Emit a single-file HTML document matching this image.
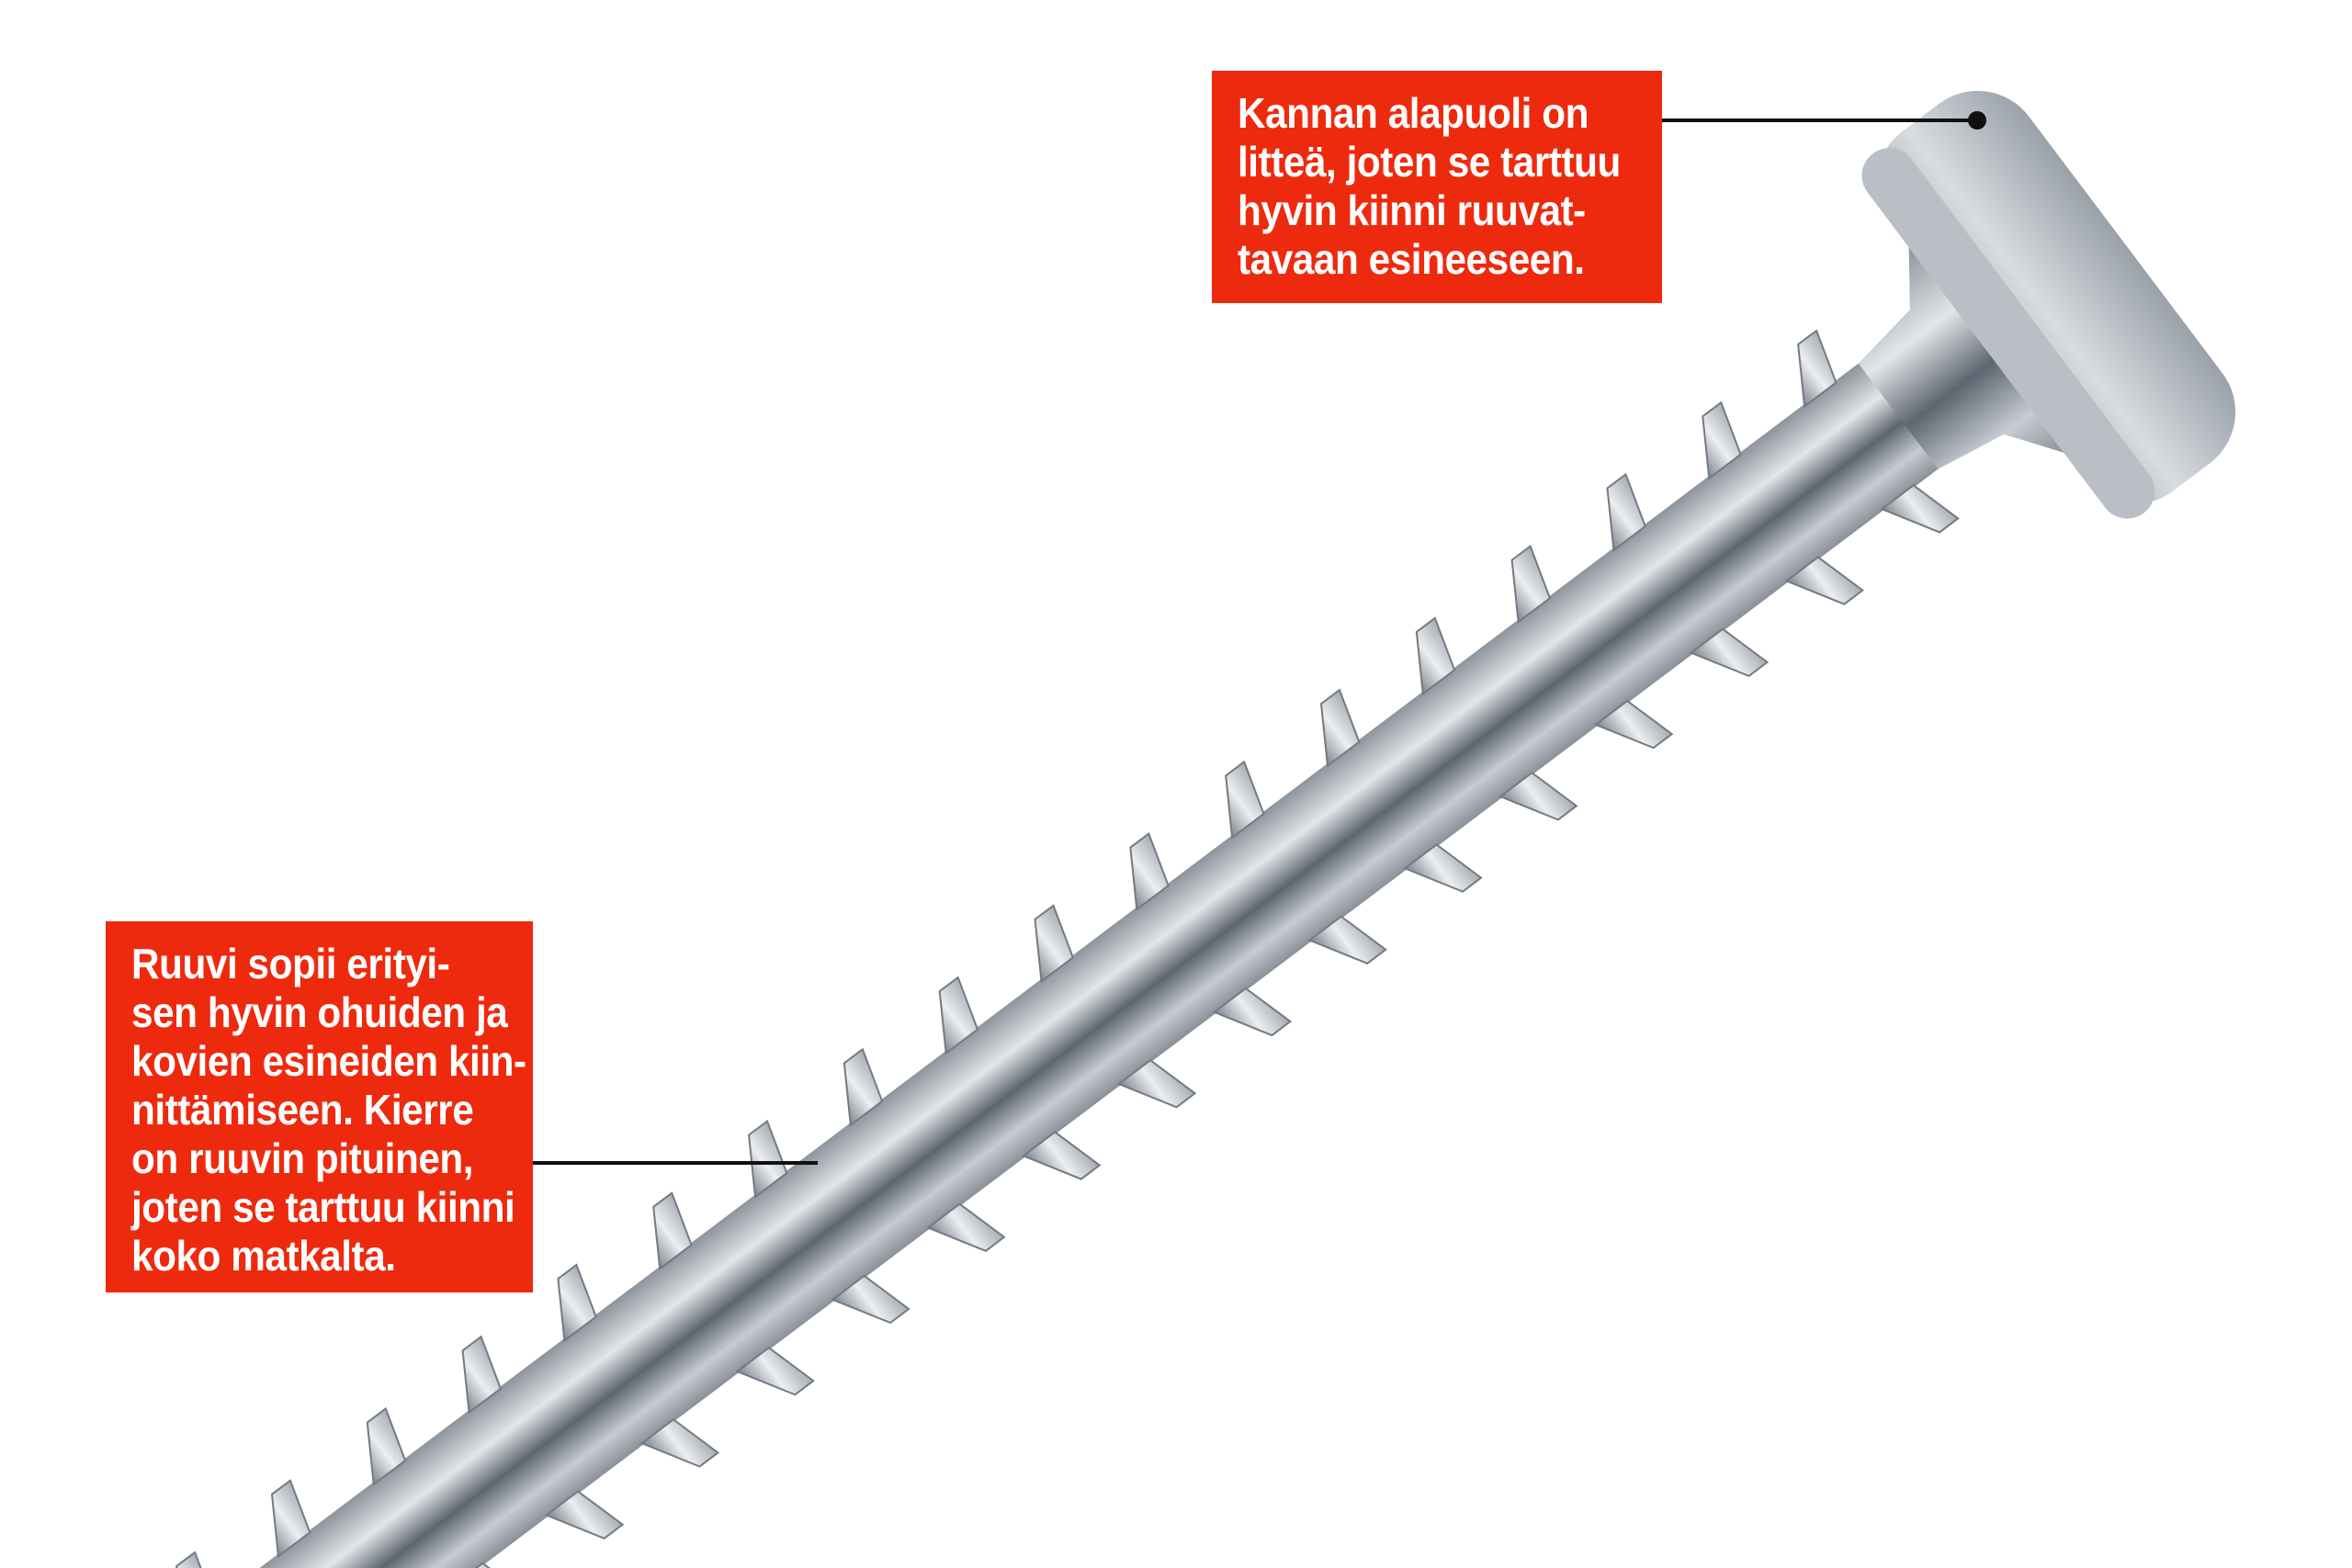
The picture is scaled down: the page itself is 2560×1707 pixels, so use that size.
<!DOCTYPE html>
<html><head><meta charset="utf-8"><style>
html,body{margin:0;width:2560px;height:1707px;overflow:hidden}
body{background:#fff;position:relative;font-family:"Liberation Sans",sans-serif}
.box{position:absolute;background:#ee2a0e;color:#fff;font-weight:bold;font-size:46px;line-height:53px;padding:20px 28px;box-sizing:border-box;white-space:nowrap;overflow:hidden}
.box span{display:inline-block;transform:scaleX(0.92);transform-origin:0 0;letter-spacing:-0.5px}
svg{position:absolute;left:0;top:0}
</style></head><body>
<svg width="2560" height="1707" viewBox="0 0 2560 1707">
<defs>
<linearGradient id="sh" x1="0" y1="0" x2="0" y2="1">
<stop offset="0" stop-color="#8d949c"/><stop offset="0.3" stop-color="#e3e6e9"/><stop offset="0.55" stop-color="#5d6570"/><stop offset="0.8" stop-color="#c7ccd2"/><stop offset="1" stop-color="#8a9098"/></linearGradient>
<linearGradient id="th" x1="0" y1="0" x2="1" y2="0">
<stop offset="0" stop-color="#7e858d"/><stop offset="0.5" stop-color="#eceef0"/><stop offset="1" stop-color="#a5abb2"/></linearGradient>
<linearGradient id="hd" x1="0" y1="0" x2="1" y2="0">
<stop offset="0" stop-color="#a8aeb5"/><stop offset="0.4" stop-color="#d9dde1"/><stop offset="1" stop-color="#9aa1a9"/></linearGradient>
</defs>
<g transform="translate(2130,405) rotate(-37)">
<rect x="-2400" y="-72" width="2420" height="144" fill="url(#sh)"/>
<path d="M-80,-72 L0,-85 L40,-140 L40,140 L0,85 L-80,72 Z" fill="url(#sh)"/>
<rect x="40" y="-245" width="190" height="490" rx="70" fill="url(#hd)"/>
<rect x="40" y="-245" width="60" height="490" rx="30" fill="#b9bfc5"/>
</g>
<g transform="translate(2130,405) rotate(-37)" fill="url(#th)" stroke="#737a82" stroke-width="2">
<path d="M-155,-70 L-120,-128 L-95,-128 L-112,-70 Z M-155,70 L-120,128 L-95,128 L-112,70 Z"/>
<path d="M-285,-70 L-250,-128 L-225,-128 L-242,-70 Z M-285,70 L-250,128 L-225,128 L-242,70 Z"/>
<path d="M-415,-70 L-380,-128 L-355,-128 L-372,-70 Z M-415,70 L-380,128 L-355,128 L-372,70 Z"/>
<path d="M-545,-70 L-510,-128 L-485,-128 L-502,-70 Z M-545,70 L-510,128 L-485,128 L-502,70 Z"/>
<path d="M-675,-70 L-640,-128 L-615,-128 L-632,-70 Z M-675,70 L-640,128 L-615,128 L-632,70 Z"/>
<path d="M-805,-70 L-770,-128 L-745,-128 L-762,-70 Z M-805,70 L-770,128 L-745,128 L-762,70 Z"/>
<path d="M-935,-70 L-900,-128 L-875,-128 L-892,-70 Z M-935,70 L-900,128 L-875,128 L-892,70 Z"/>
<path d="M-1065,-70 L-1030,-128 L-1005,-128 L-1022,-70 Z M-1065,70 L-1030,128 L-1005,128 L-1022,70 Z"/>
<path d="M-1195,-70 L-1160,-128 L-1135,-128 L-1152,-70 Z M-1195,70 L-1160,128 L-1135,128 L-1152,70 Z"/>
<path d="M-1325,-70 L-1290,-128 L-1265,-128 L-1282,-70 Z M-1325,70 L-1290,128 L-1265,128 L-1282,70 Z"/>
<path d="M-1455,-70 L-1420,-128 L-1395,-128 L-1412,-70 Z M-1455,70 L-1420,128 L-1395,128 L-1412,70 Z"/>
<path d="M-1585,-70 L-1550,-128 L-1525,-128 L-1542,-70 Z M-1585,70 L-1550,128 L-1525,128 L-1542,70 Z"/>
<path d="M-1715,-70 L-1680,-128 L-1655,-128 L-1672,-70 Z M-1715,70 L-1680,128 L-1655,128 L-1672,70 Z"/>
<path d="M-1845,-70 L-1810,-128 L-1785,-128 L-1802,-70 Z M-1845,70 L-1810,128 L-1785,128 L-1802,70 Z"/>
<path d="M-1975,-70 L-1940,-128 L-1915,-128 L-1932,-70 Z M-1975,70 L-1940,128 L-1915,128 L-1932,70 Z"/>
<path d="M-2105,-70 L-2070,-128 L-2045,-128 L-2062,-70 Z M-2105,70 L-2070,128 L-2045,128 L-2062,70 Z"/>
<path d="M-2235,-70 L-2200,-128 L-2175,-128 L-2192,-70 Z M-2235,70 L-2200,128 L-2175,128 L-2192,70 Z"/>
<path d="M-2365,-70 L-2330,-128 L-2305,-128 L-2322,-70 Z M-2365,70 L-2330,128 L-2305,128 L-2322,70 Z"/>
</g>
<line x1="1809" y1="131" x2="2152" y2="131" stroke="#111" stroke-width="4"/>
<circle cx="2152" cy="131" r="10" fill="#111"/>
<line x1="580" y1="1266" x2="890" y2="1266" stroke="#111" stroke-width="4"/>
</svg>
<div class="box" style="left:1319px;top:77px;width:490px;height:253px"><span>Kannan alapuoli on<br>litteä, joten se tarttuu<br>hyvin kiinni ruuvat-<br>tavaan esineeseen.</span></div>
<div class="box" style="left:115px;top:1003px;width:465px;height:404px"><span>Ruuvi sopii erityi-<br>sen hyvin ohuiden ja<br>kovien esineiden kiin-<br>nittämiseen. Kierre<br>on ruuvin pituinen,<br>joten se tarttuu kiinni<br>koko matkalta.</span></div>
</body></html>
